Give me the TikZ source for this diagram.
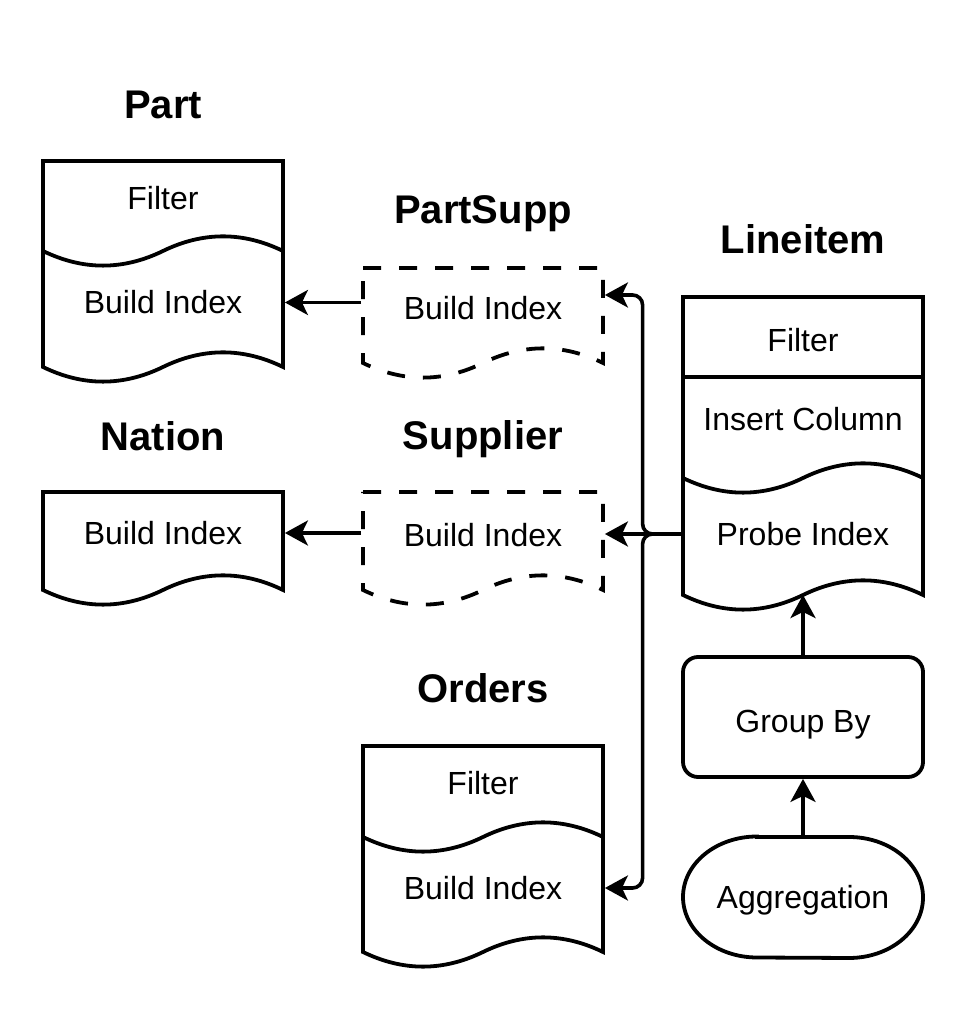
\documentclass[tikz,border=0pt]{standalone}
\usepackage{fontspec}
\setmainfont{Liberation Sans}
\usetikzlibrary{arrows.meta}
\tikzset{
  shp/.style={line width=1.9pt, line join=miter, fill=white},
  dsh/.style={shp, dash pattern=on 9pt off 9pt},
  txt/.style={font=\fontsize{16}{19}\selectfont, minimum width=120pt, inner sep=0pt, outer sep=0.95pt, text height=11.46pt, text depth=0pt, anchor=center},
  ttl/.style={font=\bfseries\fontsize{20}{24}\selectfont, inner sep=0pt, text height=14.3pt, text depth=0pt},
  arr/.style={line width=1.8pt, -{Stealth[length=11.5pt,width=12.5pt,inset=3pt]}},
  wrl/.style n args={2}{insert path={.. controls ({#1+200},{#2+19.5}) and ({#1+160},{#2+19.5}) .. ({#1+120},#2) .. controls ({#1+80},{#2-19.5}) and ({#1+40},{#2-19.5}) .. (#1,#2)}}
}
\begin{document}
\begin{tikzpicture}[x=0.5pt,y=0.5pt]
\useasboundingbox[fill=white] (0,0) rectangle (966,1010);

% Part
\draw[shp] (43,849) -- (283,849) -- (283,643) [wrl={43}{643}] -- cycle;
\draw[shp, fill=none] (283,759) [wrl={43}{759}];
% Nation
\draw[shp] (43,518) -- (283,518) -- (283,420) [wrl={43}{420}] -- cycle;
% PartSupp
\draw[dsh] (363,742) -- (603,742) -- (603,647) [wrl={363}{647}] -- cycle;
% Supplier
\draw[dsh] (363,518) -- (603,518) -- (603,420) [wrl={363}{420}] -- cycle;
% Lineitem
\draw[shp] (683,713) -- (923,713) -- (923,415) [wrl={683}{415}] -- cycle;
\draw[shp] (683,633) -- (923,633);
\draw[shp, fill=none] (923,532) [wrl={683}{532}];
% Orders
\draw[shp] (363,264) -- (603,264) -- (603,58) [wrl={363}{58}] -- cycle;
\draw[shp, fill=none] (603,173) [wrl={363}{173}];

% titles
\node[ttl] (ptitle) at (163,906) {Part};
\node[ttl] (pstitle) at (483,801) {PartSupp};
\node[ttl] (ltitle) at (803,771) {Lineitem};
\node[ttl] (ntitle) at (163,574) {Nation};
\node[ttl] (stitle) at (483,575) {Supplier};
\node[ttl] (otitle) at (483,322) {Orders};

% section texts
\node[txt] (pf) at (163,812) {Filter};
\node[txt] (pbi) at (163,707.5) {Build Index};
\node[txt] (psbi) at (483,702) {Build Index};
\node[txt] (nbi) at (163,477) {Build Index};
\node[txt] (sbi) at (483,475) {Build Index};
\node[txt] (lf) at (803,670) {Filter};
\node[txt] (lic) at (803,591) {Insert Column};
\node[txt] (lpi) at (803,476) {Probe Index};
\node[txt] (of) at (483,227) {Filter};
\node[txt] (obi) at (483,122) {Build Index};

% Group By and Aggregation
\node[draw, line width=1.9pt, rounded corners=7.5pt, minimum width=120pt, minimum height=60pt, inner sep=0pt,
      font=\fontsize{16}{19}\selectfont, text height=15.46pt, text depth=0pt] (gb) at (803,293) {Group By};
\node[minimum width=120pt, minimum height=60.5pt, inner sep=0pt, outer sep=0.95pt] (agg) at (803,112.5) {};
\draw[shp] (757,173) -- (849,173) arc[start angle=90, end angle=-90, x radius=37pt, y radius=30.25pt]
  -- (757,52.5) arc[start angle=270, end angle=90, x radius=37pt, y radius=30.25pt] -- cycle;
\node[font=\fontsize{16}{19}\selectfont, inner sep=0pt, text height=11.46pt, text depth=0pt] (aggt) at (agg.center) {Aggregation};

% connectors
\coordinate (lbot) at (803,415);
\draw[arr] (pbi.east -| psbi.west) -- (pbi.east);
\draw[arr] (nbi.east -| sbi.west) -- (nbi.east);
\draw[arr, rounded corners=5pt] (lpi.west) -- ++(-38.5,0) |- ([yshift=6.5pt]psbi.east);
\draw[arr] (lpi.west) -- (lpi.west -| sbi.east);
\draw[arr, rounded corners=5pt] (lpi.west) -- ++(-38.5,0) |- (obi.east);
\draw[arr] (gb.north) -- (lbot);
\draw[arr] (agg.north) -- (gb.south);
\end{tikzpicture}
\end{document}
